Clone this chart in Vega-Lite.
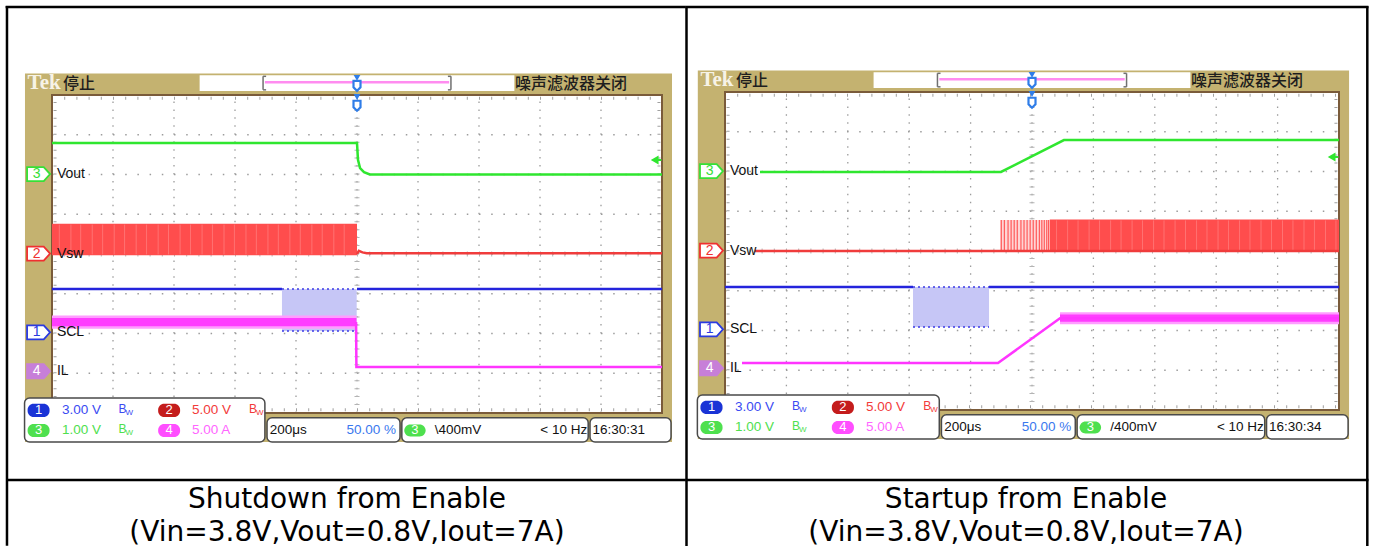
{
  "$schema": "https://vega.github.io/schema/vega-lite/v6.json",
  "background": "#ffffff",
  "padding": 0,
  "spacing": 0,
  "bounds": "flush",
  "config": {"view": {"stroke": null}, "concat": {"spacing": 0}},
  "datasets": {
    "olive": [{"x": -0.443, "x2": 10.164, "y": 8.54, "y2": -0.73}],
    "hwhite": [{"x": 2.42, "x2": 7.58, "y": 8.5, "y2": 8.1}],
    "grat": [{"x": 0, "x2": 10, "y": 0, "y2": 8}],
    "hgrid": [
      {"x": 0, "x2": 10, "y": 1, "y2": 1}, {"x": 0, "x2": 10, "y": 2, "y2": 2}, {"x": 0, "x2": 10, "y": 3, "y2": 3},
      {"x": 0, "x2": 10, "y": 4, "y2": 4}, {"x": 0, "x2": 10, "y": 5, "y2": 5}, {"x": 0, "x2": 10, "y": 6, "y2": 6},
      {"x": 0, "x2": 10, "y": 7, "y2": 7}
    ],
    "vgrid": [
      {"x": 1, "x2": 1, "y": 0, "y2": 8}, {"x": 2, "x2": 2, "y": 0, "y2": 8}, {"x": 3, "x2": 3, "y": 0, "y2": 8},
      {"x": 4, "x2": 4, "y": 0, "y2": 8}, {"x": 5, "x2": 5, "y": 0, "y2": 8}, {"x": 6, "x2": 6, "y": 0, "y2": 8},
      {"x": 7, "x2": 7, "y": 0, "y2": 8}, {"x": 8, "x2": 8, "y": 0, "y2": 8}, {"x": 9, "x2": 9, "y": 0, "y2": 8}
    ],
    "ctv": [{"x": 5, "x2": 5, "y": 0, "y2": 8}],
    "cth": [{"x": 0, "x2": 10, "y": 4, "y2": 4}],
    "etv": [{"x": 0.05, "x2": 0.05, "y": 0, "y2": 8}, {"x": 9.95, "x2": 9.95, "y": 0, "y2": 8}],
    "eth": [{"x": 0, "x2": 10, "y": 0.08, "y2": 0.08}, {"x": 0, "x2": 10, "y": 7.92, "y2": 7.92}],
    "brackets": [
      {"x": 3.46, "x2": 3.46, "y": 8.47, "y2": 8.13}, {"x": 3.46, "x2": 3.51, "y": 8.47, "y2": 8.47}, {"x": 3.46, "x2": 3.51, "y": 8.13, "y2": 8.13},
      {"x": 6.54, "x2": 6.54, "y": 8.47, "y2": 8.13}, {"x": 6.49, "x2": 6.54, "y": 8.47, "y2": 8.47}, {"x": 6.49, "x2": 6.54, "y": 8.13, "y2": 8.13}
    ],
    "pink": [{"x": 3.49, "x2": 6.51, "y": 8.32, "y2": 8.32}],
    "tlevel": [{"x": 9.88, "y": 6.365}],
    "tlevelr": [{"x": 9.88, "x2": 9.99, "y": 6.365, "y2": 6.365}],
    "trigtri": [{"x": 5, "y": 8.43}, {"x": 5, "y": 7.95}],
    "trigshield": [{"x": 5, "y": 8.23}, {"x": 5, "y": 7.73}],
    "chmark": [
      {"ch": "3", "x": -0.22, "y": 6.01}, {"ch": "2", "x": -0.22, "y": 4.01},
      {"ch": "1", "x": -0.22, "y": 2.03}, {"ch": "4", "x": -0.22, "y": 1.05}
    ],
    "chdigit": [
      {"ch": "3", "t": "3", "x": -0.25, "y": 6.01}, {"ch": "2", "t": "2", "x": -0.25, "y": 4.01},
      {"ch": "1", "t": "1", "x": -0.25, "y": 2.03}, {"ch": "4", "t": "4", "x": -0.25, "y": 1.05}
    ],
    "chlabel": [
      {"t": "Vout", "x": 0.08, "y": 6.01}, {"t": "Vsw", "x": 0.08, "y": 4.01},
      {"t": "SCL", "x": 0.08, "y": 2.03}, {"t": "IL", "x": 0.08, "y": 1.05}
    ],
    "tek": [{"t": "Tek", "x": -0.4, "y": 8.29}],
    "hdrcjk": [{"t": "停止", "x": 0.18, "y": 8.28}, {"t": "噪声滤波器关闭", "x": 7.59, "y": 8.28}],
    "sbox": [
      {"x": -0.45, "x2": 3.49, "y": 0.377, "y2": -0.73},
      {"x": 3.525, "x2": 5.705, "y": -0.12, "y2": -0.73},
      {"x": 5.735, "x2": 8.79, "y": -0.12, "y2": -0.73},
      {"x": 8.82, "x2": 10.148, "y": -0.12, "y2": -0.73}
    ],
    "pills": [
      {"ch": "1", "x": -0.4, "x2": -0.04, "y": 0.23, "y2": -0.1},
      {"ch": "2", "x": 1.74, "x2": 2.1, "y": 0.23, "y2": -0.1},
      {"ch": "3", "x": -0.4, "x2": -0.04, "y": -0.275, "y2": -0.605},
      {"ch": "4", "x": 1.74, "x2": 2.1, "y": -0.275, "y2": -0.605},
      {"ch": "3", "x": 5.775, "x2": 6.125, "y": -0.29, "y2": -0.59}
    ],
    "pilldig": [
      {"t": "1", "x": -0.22, "y": 0.065}, {"t": "2", "x": 1.92, "y": 0.065},
      {"t": "3", "x": -0.22, "y": -0.44}, {"t": "4", "x": 1.92, "y": -0.44}, {"t": "3", "x": 5.95, "y": -0.44}
    ],
    "str": [
      {"t": "50.00 %", "ch": "t", "x": 5.64, "y": -0.44},
      {"t": "< 10 Hz", "ch": "k", "x": 8.775, "y": -0.44}
    ],
    "bw": [
      {"ch": "1", "x": 1.09, "y": 0.065}, {"ch": "2", "x": 3.228, "y": 0.065}, {"ch": "3", "x": 1.09, "y": -0.44}
    ]
  },
  "hconcat": [
    {
      "width": 686,
      "height": 546,
      "encoding": {
        "x": {"field": "x", "type": "quantitative", "axis": null, "scale": {"domain": [-0.8525, 10.3934], "nice": false, "zero": false}},
        "y": {"field": "y", "type": "quantitative", "axis": null, "scale": {"domain": [-3.346, 10.39], "nice": false, "zero": false}}
      },
      "resolve": {"scale": {"color": "independent", "fill": "independent", "stroke": "independent"}},
      "layer": [
        {"data": {"values": [
          {"x": -0.76, "x2": 10.39, "y": 10.214, "y2": 10.214},
          {"x": -0.738, "x2": -0.738, "y": 10.24, "y2": -3.34},
          {"x": -0.738, "x2": 10.39, "y": -1.686, "y2": -1.686}]},
         "mark": {"type": "rule", "color": "#000000", "strokeWidth": 2.5},
         "encoding": {"x2": {"field": "x2"}, "y2": {"field": "y2"}}},
        {"data": {"name": "olive"}, "mark": {"type": "rect", "color": "#c4b270"}, "encoding": {"x2": {"field": "x2"}, "y2": {"field": "y2"}}},
        {"data": {"name": "hwhite"}, "mark": {"type": "rect", "color": "#ffffff"}, "encoding": {"x2": {"field": "x2"}, "y2": {"field": "y2"}}},
        {"data": {"name": "grat"}, "mark": {"type": "rect", "color": "#ffffff"}, "encoding": {"x2": {"field": "x2"}, "y2": {"field": "y2"}}},
        {"data": {"name": "hgrid"}, "mark": {"type": "rule", "color": "#9c9c9c", "strokeWidth": 1.3, "strokeDash": [1.5, 10.7]}, "encoding": {"x2": {"field": "x2"}, "y2": {"field": "y2"}}},
        {"data": {"name": "vgrid"}, "mark": {"type": "rule", "color": "#9c9c9c", "strokeWidth": 1.3, "strokeDash": [1.5, 6.45]}, "encoding": {"x2": {"field": "x2"}, "y2": {"field": "y2"}}},
        {"data": {"name": "ctv"}, "mark": {"type": "rule", "color": "#b4b4b4", "strokeWidth": 5, "strokeDash": [1, 6.95]}, "encoding": {"x2": {"field": "x2"}, "y2": {"field": "y2"}}},
        {"data": {"name": "cth"}, "mark": {"type": "rule", "color": "#b4b4b4", "strokeWidth": 5, "strokeDash": [1, 11.2]}, "encoding": {"x2": {"field": "x2"}, "y2": {"field": "y2"}}},
        {"data": {"name": "etv"}, "mark": {"type": "rule", "color": "#a0a0a0", "strokeWidth": 3, "strokeDash": [1, 6.95]}, "encoding": {"x2": {"field": "x2"}, "y2": {"field": "y2"}}},
        {"data": {"name": "eth"}, "mark": {"type": "rule", "color": "#a0a0a0", "strokeWidth": 3, "strokeDash": [1, 11.2]}, "encoding": {"x2": {"field": "x2"}, "y2": {"field": "y2"}}},
        {"data": {"name": "grat"}, "mark": {"type": "rect", "filled": false, "stroke": "#7a5b3a", "strokeWidth": 2}, "encoding": {"x2": {"field": "x2"}, "y2": {"field": "y2"}}},
        {"data": {"name": "brackets"}, "mark": {"type": "rule", "color": "#707070", "strokeWidth": 1.5}, "encoding": {"x2": {"field": "x2"}, "y2": {"field": "y2"}}},
        {"data": {"name": "pink"}, "mark": {"type": "rule", "color": "#ff8cf0", "strokeWidth": 2.5}, "encoding": {"x2": {"field": "x2"}, "y2": {"field": "y2"}}},
        {"data": {"values": [
          {"ch": "1s", "x": 3.77, "x2": 4.995, "y": 2.063, "y2": 3.12},
          {"ch": "2", "x": 0, "x2": 5.0, "y": 3.97, "y2": 4.76},
          {"ch": "4p", "x": 0, "x2": 4.99, "y": 2.12, "y2": 2.45},
          {"ch": "4", "x": 0, "x2": 4.99, "y": 2.18, "y2": 2.39}]},
         "mark": {"type": "rect"},
         "encoding": {"x2": {"field": "x2"}, "y2": {"field": "y2"},
           "fill": {"field": "ch", "type": "nominal", "legend": null, "scale": {"domain": ["1s", "2", "2p", "4p", "4"], "range": ["#c6c6f6", "#ff4d4d", "#ffd4d4", "#ff9cff", "#ff3cff"]}}}},
        {"data": {"values": [
          {"x": 0.12, "x2": 0.12, "y": 3.99, "y2": 4.74}, {"x": 0.31, "x2": 0.31, "y": 3.99, "y2": 4.74},
          {"x": 0.47, "x2": 0.47, "y": 3.99, "y2": 4.74}, {"x": 0.66, "x2": 0.66, "y": 3.99, "y2": 4.74},
          {"x": 0.83, "x2": 0.83, "y": 3.99, "y2": 4.74}, {"x": 1.02, "x2": 1.02, "y": 3.99, "y2": 4.74},
          {"x": 1.19, "x2": 1.19, "y": 3.99, "y2": 4.74}, {"x": 1.38, "x2": 1.38, "y": 3.99, "y2": 4.74},
          {"x": 1.55, "x2": 1.55, "y": 3.99, "y2": 4.74}, {"x": 1.74, "x2": 1.74, "y": 3.99, "y2": 4.74},
          {"x": 1.91, "x2": 1.91, "y": 3.99, "y2": 4.74}, {"x": 2.1, "x2": 2.1, "y": 3.99, "y2": 4.74},
          {"x": 2.27, "x2": 2.27, "y": 3.99, "y2": 4.74}, {"x": 2.46, "x2": 2.46, "y": 3.99, "y2": 4.74},
          {"x": 2.63, "x2": 2.63, "y": 3.99, "y2": 4.74}, {"x": 2.82, "x2": 2.82, "y": 3.99, "y2": 4.74},
          {"x": 2.99, "x2": 2.99, "y": 3.99, "y2": 4.74}, {"x": 3.18, "x2": 3.18, "y": 3.99, "y2": 4.74},
          {"x": 3.35, "x2": 3.35, "y": 3.99, "y2": 4.74}, {"x": 3.54, "x2": 3.54, "y": 3.99, "y2": 4.74},
          {"x": 3.71, "x2": 3.71, "y": 3.99, "y2": 4.74}, {"x": 3.9, "x2": 3.9, "y": 3.99, "y2": 4.74},
          {"x": 4.07, "x2": 4.07, "y": 3.99, "y2": 4.74}, {"x": 4.26, "x2": 4.26, "y": 3.99, "y2": 4.74},
          {"x": 4.43, "x2": 4.43, "y": 3.99, "y2": 4.74}, {"x": 4.62, "x2": 4.62, "y": 3.99, "y2": 4.74},
          {"x": 4.79, "x2": 4.79, "y": 3.99, "y2": 4.74}]},
         "mark": {"type": "rule", "color": "#ff7272", "strokeWidth": 1},
         "encoding": {"x2": {"field": "x2"}, "y2": {"field": "y2"}}},
        {"data": {"values": [
          {"x": 3.77, "x2": 4.995, "y": 3.12, "y2": 3.12},
          {"x": 3.77, "x2": 4.995, "y": 2.063, "y2": 2.063}]},
         "mark": {"type": "rule", "color": "#3a3ae6", "strokeWidth": 1.5, "strokeDash": [2, 3]},
         "encoding": {"x2": {"field": "x2"}, "y2": {"field": "y2"}}},
        {"data": {"values": [
          {"ch": "3", "seg": "a", "x": 0, "y": 6.79}, {"ch": "3", "seg": "a", "x": 5.0, "y": 6.79},
          {"ch": "3", "seg": "a", "x": 5.016, "y": 6.37}, {"ch": "3", "seg": "a", "x": 5.05, "y": 6.16},
          {"ch": "3", "seg": "a", "x": 5.115, "y": 6.06}, {"ch": "3", "seg": "a", "x": 5.21, "y": 6.0},
          {"ch": "3", "seg": "a", "x": 10, "y": 6.0},
          {"ch": "2", "seg": "b", "x": 5.0, "y": 4.0}, {"ch": "2", "seg": "b", "x": 5.03, "y": 4.08},
          {"ch": "2", "seg": "b", "x": 5.09, "y": 4.04}, {"ch": "2", "seg": "b", "x": 5.16, "y": 4.02},
          {"ch": "2", "seg": "b", "x": 10, "y": 4.02},
          {"ch": "1", "seg": "c", "x": 0, "y": 3.12}, {"ch": "1", "seg": "c", "x": 3.77, "y": 3.12},
          {"ch": "1", "seg": "d", "x": 5.0, "y": 3.12}, {"ch": "1", "seg": "d", "x": 10, "y": 3.12},
          {"ch": "4", "seg": "e", "x": 4.985, "y": 2.29}, {"ch": "4", "seg": "e", "x": 4.99, "y": 1.16},
          {"ch": "4", "seg": "e", "x": 10, "y": 1.16}]},
         "mark": {"type": "line", "strokeWidth": 2.5},
         "encoding": {"detail": {"field": "seg", "type": "nominal"},
           "stroke": {"field": "ch", "type": "nominal", "legend": null, "scale": {"domain": ["1", "2", "3", "4"], "range": ["#2424dc", "#f03c3c", "#2fe62f", "#ff35ff"]}}}},
        {"data": {"name": "tlevel"}, "mark": {"type": "point", "shape": "triangle-left", "filled": true, "color": "#2fe62f", "size": 80, "opacity": 1}},
        {"data": {"name": "tlevelr"}, "mark": {"type": "rule", "color": "#2fe62f", "strokeWidth": 2}, "encoding": {"x2": {"field": "x2"}, "y2": {"field": "y2"}}},
        {"data": {"name": "trigtri"}, "mark": {"type": "point", "shape": "triangle-down", "filled": true, "color": "#2f7de8", "size": 45, "opacity": 1}},
        {"data": {"name": "trigshield"}, "mark": {"type": "point", "shape": "M -0.7 -1 L 0.7 -1 L 0.7 0.3 L 0 1 L -0.7 0.3 Z", "filled": true, "fill": "#ffffff", "stroke": "#2f7de8", "strokeWidth": 2.2, "size": 100, "opacity": 1}},
        {"data": {"name": "chmark"},
         "mark": {"type": "point", "shape": "M -1 -0.61 L 0.45 -0.61 L 1 0 L 0.45 0.61 L -1 0.61 Z", "size": 529, "filled": true, "strokeWidth": 1.8, "opacity": 1},
         "encoding": {
           "fill": {"field": "ch", "type": "nominal", "legend": null, "scale": {"domain": ["1", "2", "3", "4"], "range": ["#ffffff", "#ffffff", "#ffffff", "#c77fd8"]}},
           "stroke": {"field": "ch", "type": "nominal", "legend": null, "scale": {"domain": ["1", "2", "3", "4"], "range": ["#2a3ae0", "#ef3030", "#36e036", "#c77fd8"]}}}},
        {"data": {"name": "chdigit"},
         "mark": {"type": "text", "font": "Liberation Sans", "fontSize": 14, "align": "center", "baseline": "middle"},
         "encoding": {"text": {"field": "t"},
           "color": {"field": "ch", "type": "nominal", "legend": null, "scale": {"domain": ["1", "2", "3", "4"], "range": ["#2a3ae0", "#ef3030", "#36e036", "#ffffff"]}}}},
        {"data": {"name": "chlabel"}, "mark": {"type": "text", "font": "Liberation Sans", "fontSize": 14, "align": "left", "baseline": "middle", "color": "#111111"}, "encoding": {"text": {"field": "t"}}},
        {"data": {"name": "tek"}, "mark": {"type": "text", "font": "Liberation Serif", "fontSize": 21, "fontWeight": "bold", "align": "left", "baseline": "middle", "color": "#f7f3e6"}, "encoding": {"text": {"field": "t"}}},
        {"data": {"name": "hdrcjk"}, "mark": {"type": "text", "font": "Noto Sans CJK SC", "fontSize": 16, "fontWeight": 500, "align": "left", "baseline": "middle", "color": "#1e1e1e"}, "encoding": {"text": {"field": "t"}}},
        {"data": {"name": "sbox"}, "mark": {"type": "rect", "fill": "#ffffff", "stroke": "#4a4a4a", "strokeWidth": 1.5, "cornerRadius": 5}, "encoding": {"x2": {"field": "x2"}, "y2": {"field": "y2"}}},
        {"data": {"name": "pills"}, "mark": {"type": "rect", "cornerRadius": 6},
         "encoding": {"x2": {"field": "x2"}, "y2": {"field": "y2"},
           "fill": {"field": "ch", "type": "nominal", "legend": null, "scale": {"domain": ["1", "2", "3", "4"], "range": ["#1a33d6", "#c41c1c", "#4ee04e", "#ff4eff"]}}}},
        {"data": {"name": "pilldig"}, "mark": {"type": "text", "font": "Liberation Sans", "fontSize": 13, "align": "center", "baseline": "middle", "color": "#ffffff"}, "encoding": {"text": {"field": "t"}}},
        {"data": {"values": [
          {"t": "3.00 V", "ch": "1", "x": 0.164, "y": 0.065},
          {"t": "5.00 V", "ch": "2", "x": 2.295, "y": 0.065},
          {"t": "1.00 V", "ch": "3", "x": 0.164, "y": -0.44},
          {"t": "5.00 A", "ch": "4", "x": 2.295, "y": -0.44},
          {"t": "200μs", "ch": "k", "x": 3.57, "y": -0.44},
          {"t": "\\400mV", "ch": "k", "x": 6.275, "y": -0.44},
          {"t": "16:30:31", "ch": "k", "x": 8.86, "y": -0.44}]},
         "mark": {"type": "text", "font": "Liberation Sans", "fontSize": 13.5, "align": "left", "baseline": "middle"},
         "encoding": {"text": {"field": "t"},
           "color": {"field": "ch", "type": "nominal", "legend": null, "scale": {"domain": ["1", "2", "3", "4", "t", "k"], "range": ["#3a4af2", "#f23a3a", "#4ee04e", "#ff66ff", "#3a78ee", "#111111"]}}}},
        {"data": {"name": "str"},
         "mark": {"type": "text", "font": "Liberation Sans", "fontSize": 13.5, "align": "right", "baseline": "middle"},
         "encoding": {"text": {"field": "t"},
           "color": {"field": "ch", "type": "nominal", "legend": null, "scale": {"domain": ["1", "2", "3", "4", "t", "k"], "range": ["#3a4af2", "#f23a3a", "#4ee04e", "#ff66ff", "#3a78ee", "#111111"]}}}},
        {"data": {"name": "bw"},
         "mark": {"type": "text", "text": "B", "font": "Liberation Sans", "fontSize": 12, "align": "left", "baseline": "middle", "dy": -1},
         "encoding": {"color": {"field": "ch", "type": "nominal", "legend": null, "scale": {"domain": ["1", "2", "3"], "range": ["#3a4af2", "#f23a3a", "#4ee04e"]}}}},
        {"data": {"name": "bw"},
         "mark": {"type": "text", "text": "W", "font": "Liberation Sans", "fontSize": 8, "align": "left", "baseline": "middle", "dx": 7, "dy": 3},
         "encoding": {"color": {"field": "ch", "type": "nominal", "legend": null, "scale": {"domain": ["1", "2", "3"], "range": ["#3a4af2", "#f23a3a", "#4ee04e"]}}}},
        {"data": {"values": [
          {"t": "Shutdown from Enable", "x": 4.836, "y": -2.39},
          {"t": "(Vin=3.8V,Vout=0.8V,Iout=7A)", "x": 4.836, "y": -3.22}]},
         "mark": {"type": "text", "font": "DejaVu Sans", "fontSize": 28, "align": "center", "baseline": "alphabetic", "color": "#000000"},
         "encoding": {"text": {"field": "t"}}}
      ]
    },
    {
      "width": 687,
      "height": 546,
      "encoding": {
        "x": {"field": "x", "type": "quantitative", "axis": null, "scale": {"domain": [-0.6352, 10.5537], "nice": false, "zero": false}},
        "y": {"field": "y", "type": "quantitative", "axis": null, "scale": {"domain": [-3.4214, 10.3145], "nice": false, "zero": false}}
      },
      "resolve": {"scale": {"color": "independent", "fill": "independent", "stroke": "independent"}},
      "layer": [
        {"data": {"values": [
          {"x": -0.627, "x2": -0.627, "y": 10.16, "y2": -3.42},
          {"x": -0.64, "x2": 10.48, "y": 10.138, "y2": 10.138},
          {"x": 10.461, "x2": 10.461, "y": 10.16, "y2": -3.42},
          {"x": -0.64, "x2": 10.48, "y": -1.761, "y2": -1.761}]},
         "mark": {"type": "rule", "color": "#000000", "strokeWidth": 2.5},
         "encoding": {"x2": {"field": "x2"}, "y2": {"field": "y2"}}},
        {"data": {"name": "olive"}, "mark": {"type": "rect", "color": "#c4b270"}, "encoding": {"x2": {"field": "x2"}, "y2": {"field": "y2"}}},
        {"data": {"name": "hwhite"}, "mark": {"type": "rect", "color": "#ffffff"}, "encoding": {"x2": {"field": "x2"}, "y2": {"field": "y2"}}},
        {"data": {"name": "grat"}, "mark": {"type": "rect", "color": "#ffffff"}, "encoding": {"x2": {"field": "x2"}, "y2": {"field": "y2"}}},
        {"data": {"name": "hgrid"}, "mark": {"type": "rule", "color": "#9c9c9c", "strokeWidth": 1.3, "strokeDash": [1.5, 10.7]}, "encoding": {"x2": {"field": "x2"}, "y2": {"field": "y2"}}},
        {"data": {"name": "vgrid"}, "mark": {"type": "rule", "color": "#9c9c9c", "strokeWidth": 1.3, "strokeDash": [1.5, 6.45]}, "encoding": {"x2": {"field": "x2"}, "y2": {"field": "y2"}}},
        {"data": {"name": "ctv"}, "mark": {"type": "rule", "color": "#b4b4b4", "strokeWidth": 5, "strokeDash": [1, 6.95]}, "encoding": {"x2": {"field": "x2"}, "y2": {"field": "y2"}}},
        {"data": {"name": "cth"}, "mark": {"type": "rule", "color": "#b4b4b4", "strokeWidth": 5, "strokeDash": [1, 11.2]}, "encoding": {"x2": {"field": "x2"}, "y2": {"field": "y2"}}},
        {"data": {"name": "etv"}, "mark": {"type": "rule", "color": "#a0a0a0", "strokeWidth": 3, "strokeDash": [1, 6.95]}, "encoding": {"x2": {"field": "x2"}, "y2": {"field": "y2"}}},
        {"data": {"name": "eth"}, "mark": {"type": "rule", "color": "#a0a0a0", "strokeWidth": 3, "strokeDash": [1, 11.2]}, "encoding": {"x2": {"field": "x2"}, "y2": {"field": "y2"}}},
        {"data": {"name": "grat"}, "mark": {"type": "rect", "filled": false, "stroke": "#7a5b3a", "strokeWidth": 2}, "encoding": {"x2": {"field": "x2"}, "y2": {"field": "y2"}}},
        {"data": {"name": "brackets"}, "mark": {"type": "rule", "color": "#707070", "strokeWidth": 1.5}, "encoding": {"x2": {"field": "x2"}, "y2": {"field": "y2"}}},
        {"data": {"name": "pink"}, "mark": {"type": "rule", "color": "#ff8cf0", "strokeWidth": 2.5}, "encoding": {"x2": {"field": "x2"}, "y2": {"field": "y2"}}},
        {"data": {"values": [
          {"ch": "1s", "x": 3.062, "x2": 4.3, "y": 2.088, "y2": 3.094},
          {"ch": "2p", "x": 4.48, "x2": 5.29, "y": 4.0, "y2": 4.78},
          {"ch": "2", "x": 5.29, "x2": 10, "y": 3.98, "y2": 4.79},
          {"ch": "4p", "x": 5.456, "x2": 10, "y": 2.16, "y2": 2.46},
          {"ch": "4", "x": 5.456, "x2": 10, "y": 2.22, "y2": 2.4}]},
         "mark": {"type": "rect"},
         "encoding": {"x2": {"field": "x2"}, "y2": {"field": "y2"},
           "fill": {"field": "ch", "type": "nominal", "legend": null, "scale": {"domain": ["1s", "2", "2p", "4p", "4"], "range": ["#c6c6f6", "#ff4d4d", "#ffd4d4", "#ff9cff", "#ff3cff"]}}}},
        {"data": {"values": [
          {"x": 4.5, "x2": 4.5, "y": 4.0, "y2": 4.78}, {"x": 4.55, "x2": 4.55, "y": 4.0, "y2": 4.78},
          {"x": 4.61, "x2": 4.61, "y": 4.0, "y2": 4.78}, {"x": 4.66, "x2": 4.66, "y": 4.0, "y2": 4.78},
          {"x": 4.71, "x2": 4.71, "y": 4.0, "y2": 4.78}, {"x": 4.76, "x2": 4.76, "y": 4.0, "y2": 4.78},
          {"x": 4.82, "x2": 4.82, "y": 4.0, "y2": 4.78}, {"x": 4.87, "x2": 4.87, "y": 4.0, "y2": 4.78},
          {"x": 4.92, "x2": 4.92, "y": 4.0, "y2": 4.78}, {"x": 4.97, "x2": 4.97, "y": 4.0, "y2": 4.78},
          {"x": 5.02, "x2": 5.02, "y": 4.0, "y2": 4.78}, {"x": 5.07, "x2": 5.07, "y": 4.0, "y2": 4.78},
          {"x": 5.12, "x2": 5.12, "y": 4.0, "y2": 4.78}, {"x": 5.16, "x2": 5.16, "y": 4.0, "y2": 4.78},
          {"x": 5.2, "x2": 5.2, "y": 4.0, "y2": 4.78}, {"x": 5.24, "x2": 5.24, "y": 4.0, "y2": 4.78},
          {"x": 5.27, "x2": 5.27, "y": 4.0, "y2": 4.78}]},
         "mark": {"type": "rule", "color": "#ff5a5a", "strokeWidth": 1.2},
         "encoding": {"x2": {"field": "x2"}, "y2": {"field": "y2"}}},
        {"data": {"values": [
          {"x": 5.4, "x2": 5.4, "y": 4.0, "y2": 4.77}, {"x": 5.58, "x2": 5.58, "y": 4.0, "y2": 4.77},
          {"x": 5.75, "x2": 5.75, "y": 4.0, "y2": 4.77}, {"x": 5.93, "x2": 5.93, "y": 4.0, "y2": 4.77},
          {"x": 6.1, "x2": 6.1, "y": 4.0, "y2": 4.77}, {"x": 6.28, "x2": 6.28, "y": 4.0, "y2": 4.77},
          {"x": 6.45, "x2": 6.45, "y": 4.0, "y2": 4.77}, {"x": 6.63, "x2": 6.63, "y": 4.0, "y2": 4.77},
          {"x": 6.8, "x2": 6.8, "y": 4.0, "y2": 4.77}, {"x": 6.98, "x2": 6.98, "y": 4.0, "y2": 4.77},
          {"x": 7.15, "x2": 7.15, "y": 4.0, "y2": 4.77}, {"x": 7.33, "x2": 7.33, "y": 4.0, "y2": 4.77},
          {"x": 7.5, "x2": 7.5, "y": 4.0, "y2": 4.77}, {"x": 7.68, "x2": 7.68, "y": 4.0, "y2": 4.77},
          {"x": 7.85, "x2": 7.85, "y": 4.0, "y2": 4.77}, {"x": 8.03, "x2": 8.03, "y": 4.0, "y2": 4.77},
          {"x": 8.2, "x2": 8.2, "y": 4.0, "y2": 4.77}, {"x": 8.38, "x2": 8.38, "y": 4.0, "y2": 4.77},
          {"x": 8.55, "x2": 8.55, "y": 4.0, "y2": 4.77}, {"x": 8.73, "x2": 8.73, "y": 4.0, "y2": 4.77},
          {"x": 8.9, "x2": 8.9, "y": 4.0, "y2": 4.77}, {"x": 9.08, "x2": 9.08, "y": 4.0, "y2": 4.77},
          {"x": 9.25, "x2": 9.25, "y": 4.0, "y2": 4.77}, {"x": 9.43, "x2": 9.43, "y": 4.0, "y2": 4.77},
          {"x": 9.6, "x2": 9.6, "y": 4.0, "y2": 4.77}, {"x": 9.78, "x2": 9.78, "y": 4.0, "y2": 4.77},
          {"x": 9.95, "x2": 9.95, "y": 4.0, "y2": 4.77}]},
         "mark": {"type": "rule", "color": "#ff7272", "strokeWidth": 1},
         "encoding": {"x2": {"field": "x2"}, "y2": {"field": "y2"}}},
        {"data": {"values": [
          {"x": 3.062, "x2": 4.3, "y": 3.094, "y2": 3.094},
          {"x": 3.062, "x2": 4.3, "y": 2.088, "y2": 2.088}]},
         "mark": {"type": "rule", "color": "#3a3ae6", "strokeWidth": 1.5, "strokeDash": [2, 3]},
         "encoding": {"x2": {"field": "x2"}, "y2": {"field": "y2"}}},
        {"data": {"values": [
          {"ch": "3", "seg": "a", "x": 0.57, "y": 5.99}, {"ch": "3", "seg": "a", "x": 4.495, "y": 5.99},
          {"ch": "3", "seg": "a", "x": 5.52, "y": 6.79}, {"ch": "3", "seg": "a", "x": 10, "y": 6.79},
          {"ch": "2", "seg": "b", "x": 0.49, "y": 4.0}, {"ch": "2", "seg": "b", "x": 10, "y": 4.0},
          {"ch": "1", "seg": "c", "x": 0, "y": 3.094}, {"ch": "1", "seg": "c", "x": 3.062, "y": 3.094},
          {"ch": "1", "seg": "d", "x": 4.3, "y": 3.094}, {"ch": "1", "seg": "d", "x": 10, "y": 3.094},
          {"ch": "4", "seg": "e", "x": 0.277, "y": 1.18}, {"ch": "4", "seg": "e", "x": 4.446, "y": 1.18},
          {"ch": "4", "seg": "e", "x": 5.456, "y": 2.31}, {"ch": "4", "seg": "e", "x": 10, "y": 2.31}]},
         "mark": {"type": "line", "strokeWidth": 2.5},
         "encoding": {"detail": {"field": "seg", "type": "nominal"},
           "stroke": {"field": "ch", "type": "nominal", "legend": null, "scale": {"domain": ["1", "2", "3", "4"], "range": ["#2424dc", "#f03c3c", "#2fe62f", "#ff35ff"]}}}},
        {"data": {"name": "tlevel"}, "mark": {"type": "point", "shape": "triangle-left", "filled": true, "color": "#2fe62f", "size": 80, "opacity": 1}},
        {"data": {"name": "tlevelr"}, "mark": {"type": "rule", "color": "#2fe62f", "strokeWidth": 2}, "encoding": {"x2": {"field": "x2"}, "y2": {"field": "y2"}}},
        {"data": {"name": "trigtri"}, "mark": {"type": "point", "shape": "triangle-down", "filled": true, "color": "#2f7de8", "size": 45, "opacity": 1}},
        {"data": {"name": "trigshield"}, "mark": {"type": "point", "shape": "M -0.7 -1 L 0.7 -1 L 0.7 0.3 L 0 1 L -0.7 0.3 Z", "filled": true, "fill": "#ffffff", "stroke": "#2f7de8", "strokeWidth": 2.2, "size": 100, "opacity": 1}},
        {"data": {"name": "chmark"},
         "mark": {"type": "point", "shape": "M -1 -0.61 L 0.45 -0.61 L 1 0 L 0.45 0.61 L -1 0.61 Z", "size": 529, "filled": true, "strokeWidth": 1.8, "opacity": 1},
         "encoding": {
           "fill": {"field": "ch", "type": "nominal", "legend": null, "scale": {"domain": ["1", "2", "3", "4"], "range": ["#ffffff", "#ffffff", "#ffffff", "#c77fd8"]}},
           "stroke": {"field": "ch", "type": "nominal", "legend": null, "scale": {"domain": ["1", "2", "3", "4"], "range": ["#2a3ae0", "#ef3030", "#36e036", "#c77fd8"]}}}},
        {"data": {"name": "chdigit"},
         "mark": {"type": "text", "font": "Liberation Sans", "fontSize": 14, "align": "center", "baseline": "middle"},
         "encoding": {"text": {"field": "t"},
           "color": {"field": "ch", "type": "nominal", "legend": null, "scale": {"domain": ["1", "2", "3", "4"], "range": ["#2a3ae0", "#ef3030", "#36e036", "#ffffff"]}}}},
        {"data": {"name": "chlabel"}, "mark": {"type": "text", "font": "Liberation Sans", "fontSize": 14, "align": "left", "baseline": "middle", "color": "#111111"}, "encoding": {"text": {"field": "t"}}},
        {"data": {"name": "tek"}, "mark": {"type": "text", "font": "Liberation Serif", "fontSize": 21, "fontWeight": "bold", "align": "left", "baseline": "middle", "color": "#f7f3e6"}, "encoding": {"text": {"field": "t"}}},
        {"data": {"name": "hdrcjk"}, "mark": {"type": "text", "font": "Noto Sans CJK SC", "fontSize": 16, "fontWeight": 500, "align": "left", "baseline": "middle", "color": "#1e1e1e"}, "encoding": {"text": {"field": "t"}}},
        {"data": {"name": "sbox"}, "mark": {"type": "rect", "fill": "#ffffff", "stroke": "#4a4a4a", "strokeWidth": 1.5, "cornerRadius": 5}, "encoding": {"x2": {"field": "x2"}, "y2": {"field": "y2"}}},
        {"data": {"name": "pills"}, "mark": {"type": "rect", "cornerRadius": 6},
         "encoding": {"x2": {"field": "x2"}, "y2": {"field": "y2"},
           "fill": {"field": "ch", "type": "nominal", "legend": null, "scale": {"domain": ["1", "2", "3", "4"], "range": ["#1a33d6", "#c41c1c", "#4ee04e", "#ff4eff"]}}}},
        {"data": {"name": "pilldig"}, "mark": {"type": "text", "font": "Liberation Sans", "fontSize": 13, "align": "center", "baseline": "middle", "color": "#ffffff"}, "encoding": {"text": {"field": "t"}}},
        {"data": {"values": [
          {"t": "3.00 V", "ch": "1", "x": 0.164, "y": 0.065},
          {"t": "5.00 V", "ch": "2", "x": 2.295, "y": 0.065},
          {"t": "1.00 V", "ch": "3", "x": 0.164, "y": -0.44},
          {"t": "5.00 A", "ch": "4", "x": 2.295, "y": -0.44},
          {"t": "200μs", "ch": "k", "x": 3.57, "y": -0.44},
          {"t": "/400mV", "ch": "k", "x": 6.275, "y": -0.44},
          {"t": "16:30:34", "ch": "k", "x": 8.86, "y": -0.44}]},
         "mark": {"type": "text", "font": "Liberation Sans", "fontSize": 13.5, "align": "left", "baseline": "middle"},
         "encoding": {"text": {"field": "t"},
           "color": {"field": "ch", "type": "nominal", "legend": null, "scale": {"domain": ["1", "2", "3", "4", "t", "k"], "range": ["#3a4af2", "#f23a3a", "#4ee04e", "#ff66ff", "#3a78ee", "#111111"]}}}},
        {"data": {"name": "str"},
         "mark": {"type": "text", "font": "Liberation Sans", "fontSize": 13.5, "align": "right", "baseline": "middle"},
         "encoding": {"text": {"field": "t"},
           "color": {"field": "ch", "type": "nominal", "legend": null, "scale": {"domain": ["1", "2", "3", "4", "t", "k"], "range": ["#3a4af2", "#f23a3a", "#4ee04e", "#ff66ff", "#3a78ee", "#111111"]}}}},
        {"data": {"name": "bw"},
         "mark": {"type": "text", "text": "B", "font": "Liberation Sans", "fontSize": 12, "align": "left", "baseline": "middle", "dy": -1},
         "encoding": {"color": {"field": "ch", "type": "nominal", "legend": null, "scale": {"domain": ["1", "2", "3"], "range": ["#3a4af2", "#f23a3a", "#4ee04e"]}}}},
        {"data": {"name": "bw"},
         "mark": {"type": "text", "text": "W", "font": "Liberation Sans", "fontSize": 8, "align": "left", "baseline": "middle", "dx": 7, "dy": 3},
         "encoding": {"color": {"field": "ch", "type": "nominal", "legend": null, "scale": {"domain": ["1", "2", "3"], "range": ["#3a4af2", "#f23a3a", "#4ee04e"]}}}},
        {"data": {"values": [
          {"t": "Startup from Enable", "x": 4.902, "y": -2.465},
          {"t": "(Vin=3.8V,Vout=0.8V,Iout=7A)", "x": 4.902, "y": -3.296}]},
         "mark": {"type": "text", "font": "DejaVu Sans", "fontSize": 28, "align": "center", "baseline": "alphabetic", "color": "#000000"},
         "encoding": {"text": {"field": "t"}}}
      ]
    }
  ]
}
